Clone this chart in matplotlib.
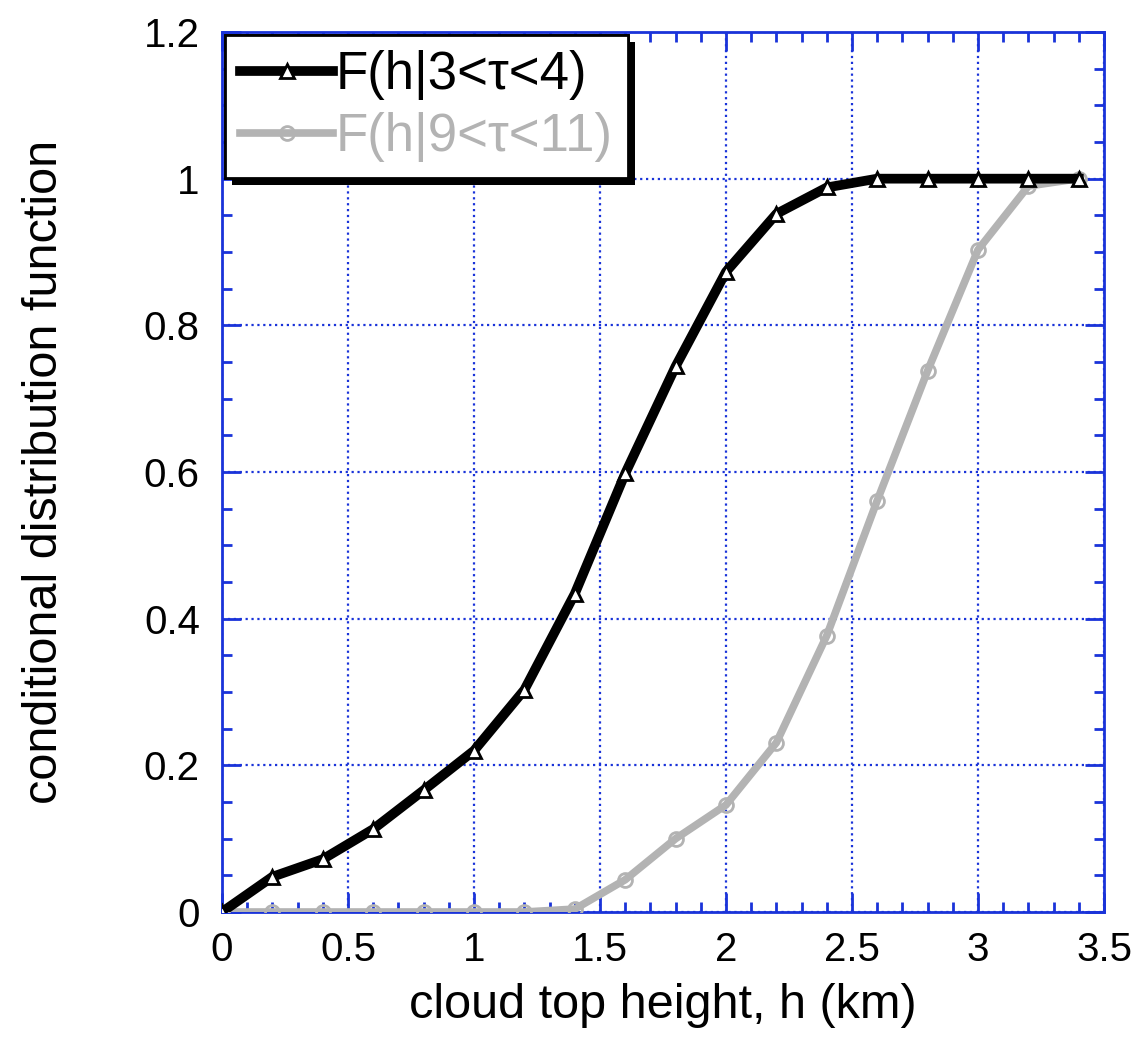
from matplotlib import pyplot as plt
from matplotlib import patheffects
from matplotlib.ticker import MultipleLocator

h = [0, 0.2, 0.4, 0.6, 0.8, 1.0, 1.2, 1.4, 1.6, 1.8, 2.0, 2.2, 2.4, 2.6, 2.8, 3.0, 3.2, 3.4]
F_3_4 = [0, 0.048, 0.072, 0.113, 0.166, 0.22, 0.303, 0.434, 0.598, 0.744,
         0.873, 0.952, 0.988, 1.0, 1.0, 1.0, 1.0, 1.0]
F_9_11 = [0, 0, 0, 0, 0, 0, 0, 0.004, 0.044, 0.1,
          0.146, 0.231, 0.377, 0.561, 0.738, 0.903, 0.99, 1.0]

blue = '#1a33d9'
grey = '#b3b3b3'

plt.rcParams['font.family'] = ['Liberation Sans', 'DejaVu Sans']
fig = plt.figure(figsize=(11.43, 10.38), dpi=100)
ax = fig.add_axes([222 / 1143, 1 - 912 / 1038, (1104 - 222) / 1143, (912 - 32) / 1038])

ax.plot(h, F_9_11, color=grey, linewidth=5.5, marker='o', markersize=10,
        markerfacecolor='none', markeredgecolor=grey, markeredgewidth=2,
        label='F(h|9<τ<11)', zorder=3)
ax.plot(h, F_3_4, color='black', linewidth=7, marker='^', markersize=10,
        markerfacecolor='white', markeredgecolor='black', markeredgewidth=2,
        label='F(h|3<τ<4)', zorder=4)

ax.set_xlim(0, 3.5)
ax.set_ylim(0, 1.2)
ax.xaxis.set_major_locator(MultipleLocator(0.5))
ax.xaxis.set_minor_locator(MultipleLocator(0.1))
ax.yaxis.set_major_locator(MultipleLocator(0.2))
ax.yaxis.set_minor_locator(MultipleLocator(0.05))
ax.set_xticks([0, 0.5, 1, 1.5, 2, 2.5, 3, 3.5], ['0', '0.5', '1', '1.5', '2', '2.5', '3', '3.5'])
ax.set_yticks([0, 0.2, 0.4, 0.6, 0.8, 1.0, 1.2], ['0', '0.2', '0.4', '0.6', '0.8', '1', '1.2'])

for s in ax.spines.values():
    s.set_color(blue)
    s.set_linewidth(2)
ax.tick_params(which='both', direction='in', top=True, right=True, color=blue,
               labelsize=29)
ax.tick_params(axis='x', pad=14)
ax.tick_params(axis='y', pad=16)
ax.tick_params(which='major', length=14, width=2)
ax.tick_params(which='minor', length=7, width=2)
ax.grid(which='major', color=blue, linestyle=':', linewidth=1.6)

ax.set_xlabel('cloud top height, h (km)', fontsize=35, labelpad=10)
ax.set_ylabel('conditional distribution function', fontsize=35, labelpad=55)

handles, labels = ax.get_legend_handles_labels()
leg = ax.legend(handles[::-1], labels[::-1], loc='upper left',
                bbox_to_anchor=(0.003, 0.997), borderaxespad=0, fontsize=38,
                fancybox=False, framealpha=1, handlelength=1.75, handletextpad=0.05,
                borderpad=0.3, labelspacing=0.22)
leg.get_frame().set_edgecolor('black')
leg.get_frame().set_linewidth(2)
leg.get_frame().set_path_effects([
    patheffects.withSimplePatchShadow(offset=(5, -5), shadow_rgbFace='black', alpha=1),
    patheffects.Normal()])
for t, c in zip(leg.get_texts(), ['black', grey]):
    t.set_color(c)

plt.savefig('out.png', dpi=100)
